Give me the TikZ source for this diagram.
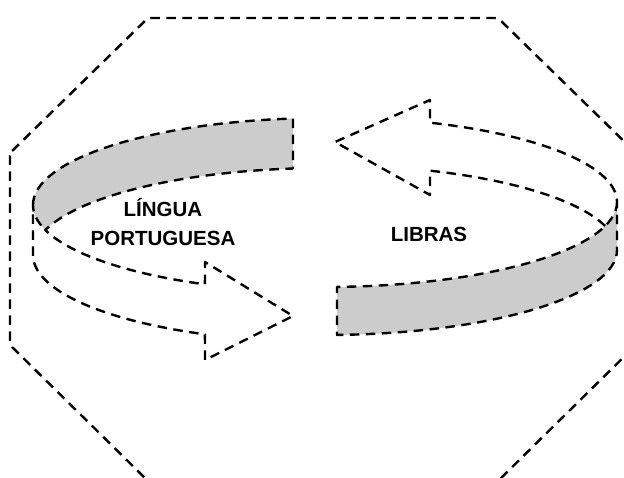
\documentclass[tikz,border=0pt]{standalone}
\usepackage{fontspec}
\setmainfont{Liberation Sans}
\usetikzlibrary{calc}
\definecolor{gfill}{RGB}{204,204,204}
\tikzset{
  dline/.style={draw=black, line width=2.4pt, dash pattern=on 9.5pt off 6.5pt, line join=round},
  lbl/.style={font=\fontsize{20.5}{24}\selectfont\bfseries, inner sep=0pt, anchor=base},
  ringL/.style={x radius=292pt, y radius=87pt},
  ringR/.style={x radius=292pt, y radius=85pt},
}
\begin{document}
\begin{tikzpicture}[x=1pt,y=1pt]
\useasboundingbox (0,0) rectangle (624,478);
% octagon frame
\begin{scope}
\clip (0,0) rectangle (624,478);
\draw[dline, rounded corners=3pt] (10,325) -- (148,460) -- (498,460) -- (636,325) -- (636,133) -- (498,-3) -- (148,-3) -- (10,133) -- cycle;
\end{scope}
% left ring (Lingua Portuguesa)
\coordinate (L1) at (325,273);
\coordinate (L2) at (325,223);
\fill[gfill] ($(L1)+(96.3:292pt and 87pt)$) arc[ringL, start angle=96.3, end angle=196.7]
  arc[ringL, start angle=163.3, end angle=96.3] -- cycle;
\draw[dline] ($(L1)+(180:292pt and 87pt)$) arc[ringL, start angle=180, end angle=96.3]
  -- ($(L2)+(96.3:292pt and 87pt)$) arc[ringL, start angle=96.3, end angle=163.3]
  arc[ringL, start angle=196.7, end angle=245.72]
  -- (205,216) -- (293,162) -- (205,118) -- ($(L2)+(245.72:292pt and 87pt)$)
  arc[ringL, start angle=245.72, end angle=180]
  -- ($(L1)+(180:292pt and 87pt)$) arc[ringL, start angle=180, end angle=196.7];
% right ring (Libras)
\coordinate (R1) at (325,276);
\coordinate (R2) at (325,228);
\fill[gfill] ($(R1)+(272.36:292pt and 85pt)$) arc[ringR, start angle=272.36, end angle=360]
  -- ($(R2)+(0:292pt and 85pt)$) arc[ringR, start angle=360, end angle=272.36] -- cycle;
\draw[dline] ($(R2)+(16.4:292pt and 85pt)$) arc[ringR, start angle=16.4, end angle=68.92]
  -- (430,283) -- (335,336) -- (430,378) -- ($(R1)+(68.92:292pt and 85pt)$)
  arc[ringR, start angle=68.92, end angle=0]
  -- ($(R2)+(0:292pt and 85pt)$) arc[ringR, start angle=360, end angle=272.36]
  -- ($(R1)+(272.36:292pt and 85pt)$) arc[ringR, start angle=272.36, end angle=360];
% labels
\node[lbl] (lingua) at (163,261.3) {LÍNGUA};
\node[lbl] (portuguesa) at (163,232) {PORTUGUESA};
\node[lbl] (libras) at (429,236.3) {LIBRAS};
\end{tikzpicture}
\end{document}
